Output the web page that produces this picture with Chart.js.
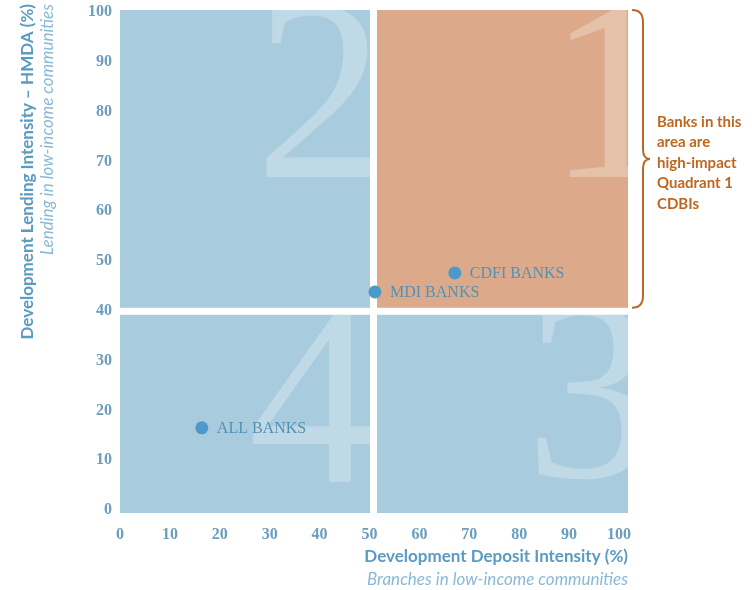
<!DOCTYPE html>
<html>
<head>
<meta charset="utf-8">
<title>CDBI quadrants</title>
<script src="https://cdn.jsdelivr.net/npm/chart.js@4.4.1/dist/chart.umd.min.js"></script>
<style>
  html, body { margin: 0; padding: 0; background: #ffffff; }
  #wrap { width: 752px; height: 590px; }
</style>
</head>
<body>
<div id="wrap"><canvas id="quadChart" width="752" height="590"></canvas></div>
<script>
// data
var bankNames = ['ALL BANKS', 'MDI BANKS', 'CDFI BANKS'];
var depositIntensity = [16.4, 51.1, 67.1];   // x, %
var lendingIntensity = [16.5, 43.8, 47.6];   // y, %
var xTickValues = [0, 10, 20, 30, 40, 50, 60, 70, 80, 90, 100];
var yTickValues = [0, 10, 20, 30, 40, 50, 60, 70, 80, 90, 100];
var splitX = 50.8;   // where the quadrants divide
var splitY = 39.9;
var noteLines = ['Banks in this', 'area are', 'high-impact', 'Quadrant 1', 'CDBIs'];

var blueFill = '#a9cbde';
var orangeFill = '#dcaa8b';
var dotColor = '#4d99c8';
var labelColor = '#5391b3';
var tickColor = '#6b9dbd';
var titleColor = '#5b9bc2';
var subColor = '#8bb9d5';
var noteColor = '#bf661f';

function quadRects(chart) {
  var ca = chart.chartArea;
  var mx = chart.scales.x.getPixelForValue(splitX);
  var my = chart.scales.y.getPixelForValue(splitY);
  var g = 3.5;
  var L = ca.left, R = ca.right + 9, T = ca.top - 2, B = ca.bottom + 3;
  return {
    q1: { l: mx + g, t: T, r: R, b: my - g },
    q2: { l: L, t: T, r: mx - g, b: my - g },
    q3: { l: mx + g, t: my + g, r: R, b: B },
    q4: { l: L, t: my + g, r: mx - g, b: B }
  };
}

var quadrantPlugin = {
  id: 'quadrants',
  beforeDatasetsDraw: function (chart) {
    var ctx = chart.ctx;
    var q = quadRects(chart);
    ctx.save();
    [['q1', orangeFill], ['q2', blueFill], ['q3', blueFill], ['q4', blueFill]].forEach(function (p) {
      var r = q[p[0]];
      ctx.fillStyle = p[1];
      ctx.fillRect(r.l, r.t, r.r - r.l, r.b - r.t);
    });
    // big faded quadrant numbers, clipped to their box
    var nums = [
      ['q1', '1', 16, 167],
      ['q2', '2', 50, 167],
      ['q3', '3', 38, 162],
      ['q4', '4', 57, 167]
    ];
    nums.forEach(function (n) {
      var r = q[n[0]];
      ctx.save();
      ctx.beginPath();
      ctx.rect(r.l, r.t, r.r - r.l, r.b - r.t);
      ctx.clip();
      ctx.font = '260px "Liberation Serif"';
      ctx.fillStyle = 'rgba(255,255,255,0.27)';
      ctx.textAlign = 'center';
      ctx.textBaseline = 'alphabetic';
      ctx.fillText(n[1], r.r - n[2], r.t + n[3]);
      ctx.restore();
    });
    ctx.restore();
  },
  afterDatasetsDraw: function (chart) {
    var ctx = chart.ctx;
    var meta = chart.getDatasetMeta(0);
    ctx.save();
    ctx.font = '16px "Liberation Serif"';
    ctx.fillStyle = labelColor;
    ctx.textAlign = 'left';
    ctx.textBaseline = 'middle';
    meta.data.forEach(function (pt, i) {
      ctx.fillText(bankNames[i], pt.x + 15, pt.y + 1);
    });
    ctx.restore();
  },
  afterDraw: function (chart) {
    var ctx = chart.ctx;
    var q = quadRects(chart);
    ctx.save();

    // x axis title
    ctx.textAlign = 'right';
    ctx.textBaseline = 'middle';
    ctx.font = 'bold 17px Lato';
    ctx.fillStyle = titleColor;
    ctx.fillText('Development Deposit Intensity (%)', q.q1.r, 557);
    ctx.font = 'italic 17px Lato';
    ctx.fillStyle = subColor;
    ctx.fillText('Branches in low-income communities', q.q1.r, 580);

    // y axis title, rotated, ending at the top
    ctx.save();
    ctx.translate(28, 4);
    ctx.rotate(-Math.PI / 2);
    ctx.textAlign = 'right';
    ctx.font = 'bold 17px Lato';
    ctx.fillStyle = titleColor;
    ctx.fillText('Development Lending Intensity \u2013 HMDA (%)', 0, 0);
    ctx.font = 'italic 17px Lato';
    ctx.fillStyle = subColor;
    ctx.fillText('Lending in low-income communities', 0, 20);
    ctx.restore();

    // brace beside quadrant 1
    var top = q.q1.t, bot = q.q1.b;
    var mid = (top + bot) / 2;
    var x0 = q.q1.r + 4, xv = x0 + 11, xt = xv + 7;
    ctx.strokeStyle = '#b8692a';
    ctx.lineWidth = 2;
    ctx.beginPath();
    ctx.moveTo(x0, top);
    ctx.quadraticCurveTo(xv, top, xv, top + 12);
    ctx.lineTo(xv, mid - 10);
    ctx.quadraticCurveTo(xv, mid, xt, mid);
    ctx.quadraticCurveTo(xv, mid, xv, mid + 10);
    ctx.lineTo(xv, bot - 12);
    ctx.quadraticCurveTo(xv, bot, x0, bot);
    ctx.stroke();

    ctx.font = 'bold 15px Lato';
    ctx.fillStyle = noteColor;
    ctx.textAlign = 'left';
    ctx.textBaseline = 'middle';
    noteLines.forEach(function (line, i) {
      ctx.fillText(line, xt + 7, 122 + i * 20.5);
    });
    ctx.restore();
  }
};

var points = depositIntensity.map(function (v, i) {
  return { x: v, y: lendingIntensity[i] };
});

var ctx = document.getElementById('quadChart').getContext('2d');
var quadChart = new Chart(ctx, {
  type: 'scatter',
  data: {
    datasets: [{
      label: 'Banks',
      data: points,
      pointRadius: 6.5,
      pointHoverRadius: 6.5,
      pointBackgroundColor: dotColor,
      pointBorderWidth: 0
    }]
  },
  options: {
    responsive: false,
    animation: false,
    layout: {
      padding: { left: 80, right: 133, top: 12, bottom: 36 }
    },
    plugins: {
      legend: { display: false },
      tooltip: { enabled: false }
    },
    scales: {
      x: {
        type: 'linear',
        min: 0,
        max: 100,
        grid: { display: false, drawTicks: false },
        border: { display: false },
        afterBuildTicks: function (s) {
          s.ticks = xTickValues.map(function (v) { return { value: v }; });
        },
        afterFit: function (s) {
          s.height = 44;
          s.paddingLeft = 0;
          s.paddingRight = 0;
        },
        ticks: {
          padding: 15,
          color: tickColor,
          font: { family: '"Liberation Serif"', size: 16, weight: 'bold' },
          maxRotation: 0
        }
      },
      y: {
        type: 'linear',
        min: 0,
        max: 100,
        grid: { display: false, drawTicks: false },
        border: { display: false },
        afterBuildTicks: function (s) {
          s.ticks = yTickValues.map(function (v) { return { value: v }; });
        },
        afterFit: function (s) {
          s.width = 40;
          s.paddingTop = 0;
          s.paddingBottom = 0;
        },
        ticks: {
          padding: 8,
          color: tickColor,
          font: { family: '"Liberation Serif"', size: 16, weight: 'bold' }
        }
      }
    }
  },
  plugins: [quadrantPlugin]
});
</script>
</body>
</html>
